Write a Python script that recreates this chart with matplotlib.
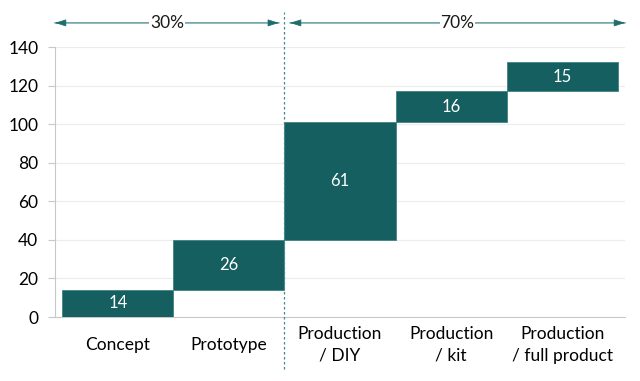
import matplotlib
matplotlib.use("Agg")
import matplotlib.pyplot as plt
import numpy as np

categories = ["Concept", "Prototype", "Production\n/ DIY", "Production\n/ kit", "Production\n/ full product"]
values = [14, 26, 61, 16, 15]
yticks = [0, 20, 40, 60, 80, 100, 120, 140]
groups = ["30%", "70%"]

plt.rcParams['font.family'] = ['Lato', 'DejaVu Sans']

fig = plt.figure(figsize=(6.4, 3.81), dpi=100)
ax = fig.add_axes([55/640, 64/381, 570/640, 270/381])

bar_color = "#165F60"
x = np.arange(len(values))
bottoms = np.concatenate([[0], np.cumsum(values)[:-1]])
ax.bar(x, values, bottom=bottoms, width=1.0, color=bar_color,
       edgecolor="#3f8283", linewidth=0.6, zorder=3)
for xi, b, v in zip(x, bottoms, values):
    ax.text(xi, b + v / 2, str(v), ha="center", va="center",
            color="white", fontsize=12, zorder=4)

ax.set_xlim(-0.565, 4.565)
ax.set_ylim(0, 140)
ax.set_yticks(yticks)
ax.set_yticklabels([str(t) for t in yticks], fontsize=12.5)
ax.set_xticks(x)
ax.set_xticklabels(categories, fontsize=12.5, linespacing=1.45, va="center")
ax.tick_params(axis="x", length=0, pad=20)
ax.tick_params(axis="y", length=5, color="#c8c8c8", pad=7)
ax.yaxis.grid(True, color="#ececec", linewidth=0.8, zorder=0)
ax.set_axisbelow(True)
for s in ["top", "right"]:
    ax.spines[s].set_visible(False)
ax.spines["left"].set_color("#c8c8c8")
ax.spines["bottom"].set_color("#c8c8c8")

# divider line
line_x = 1.5
ax.plot([line_x, line_x], [-27, 158], transform=ax.transData, clip_on=False,
        color="#3f8a8c", linestyle=(0, (2, 2)), linewidth=0.9, zorder=5)

# group arrows
arrow_y = 152.5
spans = [(-0.565, 1.45), (1.55, 4.565)]
for (x0, x1), lab in zip(spans, groups):
    ax.annotate("", xy=(x0, arrow_y), xytext=(x1, arrow_y), xycoords="data",
                annotation_clip=False,
                arrowprops=dict(arrowstyle="-", color="#6aa3a4", linewidth=1.2,
                                shrinkA=0, shrinkB=0))
    for xa, xb in [(x0, x0 + 0.05), (x1, x1 - 0.05)]:
        ax.annotate("", xy=(xa, arrow_y), xytext=(xb, arrow_y), xycoords="data",
                    annotation_clip=False,
                    arrowprops=dict(arrowstyle="-|>,head_length=0.7,head_width=0.22",
                                    color="#1f6c6d", linewidth=0.5,
                                    shrinkA=0, shrinkB=0))
    ax.text((x0 + x1) / 2, arrow_y, lab, ha="center", va="center", fontsize=12.5,
            color="#1a1a1a", clip_on=False,
            bbox=dict(facecolor="white", edgecolor="none", pad=0.5))

fig.savefig("out.png", dpi=100)
